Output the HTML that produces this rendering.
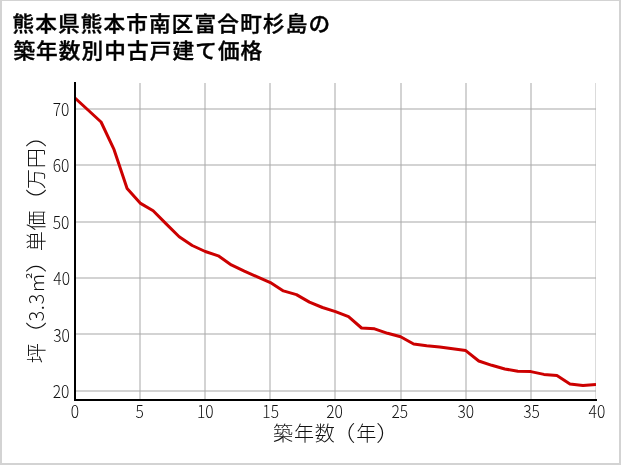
<!DOCTYPE html>
<html lang="ja"><head><meta charset="utf-8"><title>築年数別中古戸建て価格</title>
<style>
html,body{margin:0;padding:0;background:#fff;}
body{width:621px;height:465px;overflow:hidden;position:relative;}
svg{position:absolute;left:0;top:0;display:block;will-change:transform;}
text{font-family:"Noto Sans CJK JP","Liberation Sans",sans-serif;}
.title{font-weight:500;font-size:21.0px;fill:#000;stroke:#000;stroke-width:0.4px;letter-spacing:1.12px;}
.tick{font-weight:300;font-size:17.3px;fill:#111;}
.lab{font-weight:300;font-size:20.1px;fill:#111;letter-spacing:0.7px;}
</style></head><body>
<svg width="621" height="465" viewBox="0 0 621 465">
<path d="M0 0H621V465H0Z M2 1H619V463H2Z" fill="#d3d3d3" fill-rule="evenodd"/>
<text class="title" transform="translate(12.5,31.4) scale(1.03,1)">熊本県熊本市南区富合町杉島の</text>
<text class="title" style="letter-spacing:1.08px" transform="translate(13.4,58.2) scale(1.03,1)">築年数別中古戸建て価格</text>
<clipPath id="c"><rect x="75.0" y="83.0" width="521.0" height="317.0"/></clipPath>
<g fill="#ababab" fill-opacity="0.52">
<rect x="139" y="83.0" width="2" height="317.0"/><rect x="204" y="83.0" width="2" height="317.0"/><rect x="269" y="83.0" width="2" height="317.0"/><rect x="334" y="83.0" width="2" height="317.0"/><rect x="400" y="83.0" width="2" height="317.0"/><rect x="465" y="83.0" width="2" height="317.0"/><rect x="530" y="83.0" width="2" height="317.0"/><rect x="595" y="83.0" width="1" height="317.0" fill-opacity="0.43"/><rect x="75.0" y="108" width="521.0" height="2"/><rect x="75.0" y="164" width="521.0" height="2"/><rect x="75.0" y="221" width="521.0" height="2"/><rect x="75.0" y="277" width="521.0" height="2"/><rect x="75.0" y="333" width="521.0" height="2"/><rect x="75.0" y="390" width="521.0" height="2"/>
</g>
<g clip-path="url(#c)"><polyline points="75.00,98.00 88.03,110.00 101.05,122.00 114.08,149.70 127.10,188.60 140.12,203.10 153.15,210.80 166.18,223.90 179.20,236.80 192.22,245.50 205.25,251.50 218.28,255.80 231.30,264.90 244.32,271.10 257.35,276.90 270.38,282.60 283.40,290.90 296.43,294.60 309.45,302.10 322.48,307.50 335.50,311.60 348.52,316.70 361.55,328.00 374.57,328.80 387.60,333.30 400.62,336.80 413.65,344.00 426.68,345.70 439.70,346.90 452.73,348.80 465.75,350.60 478.77,361.00 491.80,365.30 504.82,369.00 517.85,371.20 530.88,371.60 543.90,374.40 556.92,375.40 569.95,384.00 582.98,385.40 596.00,384.40" fill="none" stroke="#cc0000" stroke-width="3.0" stroke-linejoin="round" stroke-linecap="butt"/></g>
<path d="M75.0 82.0V400.0" stroke="#000" stroke-width="2" fill="none"/>
<path d="M74.0 400.0H597.0" stroke="#000" stroke-width="2" fill="none"/>
<text class="tick" text-anchor="end" transform="translate(69.40,115.90) scale(0.90,1)">70</text><text class="tick" text-anchor="end" transform="translate(69.40,171.90) scale(0.90,1)">60</text><text class="tick" text-anchor="end" transform="translate(69.40,228.90) scale(0.90,1)">50</text><text class="tick" text-anchor="end" transform="translate(70.00,284.90) scale(0.90,1)">40</text><text class="tick" text-anchor="end" transform="translate(69.90,342.00) scale(0.90,1)">30</text><text class="tick" text-anchor="end" transform="translate(69.40,397.90) scale(0.90,1)">20</text>
<text class="tick" text-anchor="middle" transform="translate(75.00,417.6) scale(0.90,1)">0</text><text class="tick" text-anchor="middle" transform="translate(139.53,417.6) scale(0.90,1)">5</text><text class="tick" text-anchor="middle" transform="translate(205.25,417.6) scale(0.90,1)">10</text><text class="tick" text-anchor="middle" transform="translate(270.68,417.6) scale(0.90,1)">15</text><text class="tick" text-anchor="middle" transform="translate(334.60,417.6) scale(0.90,1)">20</text><text class="tick" text-anchor="middle" transform="translate(399.73,417.6) scale(0.90,1)">25</text><text class="tick" text-anchor="middle" transform="translate(465.75,417.6) scale(0.90,1)">30</text><text class="tick" text-anchor="middle" transform="translate(531.48,417.6) scale(0.90,1)">35</text><text class="tick" text-anchor="middle" transform="translate(596.90,417.6) scale(0.90,1)">40</text>
<text class="lab" x="273.10" y="440.6">築年数</text><text class="lab" transform="translate(331.00,440.50) scale(1.22,1.055)">（</text><text class="lab" x="356.30" y="440.6">年</text><text class="lab" transform="translate(375.97,440.50) scale(1.25,1.055)">）</text>
<g transform="translate(43.7,244.9) rotate(-90)">
<text class="lab" x="-118.28" y="0">坪</text><text class="lab" transform="translate(-102.19,-0.09) scale(1.28,1.05)">（</text><text class="lab" x="-76.70" y="0">3.3㎡</text><text class="lab" transform="translate(-28.22,-0.09) scale(1.28,1.05)">）</text><text class="lab" x="-6.48" y="0">単価</text><text class="lab" transform="translate(31.50,-0.09) scale(1.25,1.05)">（</text><text class="lab" x="55.89" y="0">万円</text><text class="lab" transform="translate(97.24,-0.09) scale(1.25,1.05)">）</text>
</g>
</svg>
</body></html>
